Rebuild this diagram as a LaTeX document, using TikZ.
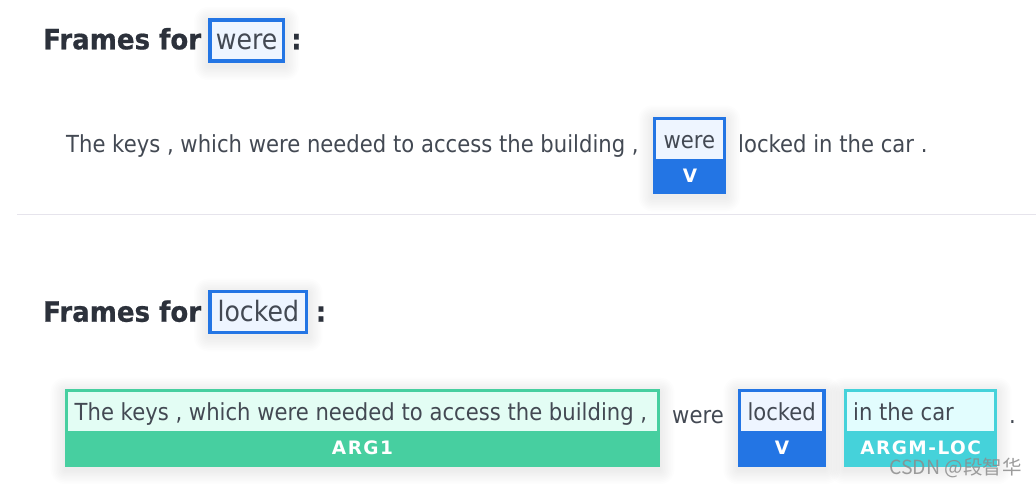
\documentclass[tikz,border=0pt]{standalone}
\usepackage{fontspec}
\setmainfont{DejaVu Sans}[FakeStretch=0.9]
\newfontfamily\hdfont{DejaVu Sans}[FakeStretch=0.93,FakeBold=0.7]
\newfontfamily\labfont{DejaVu Sans}[LetterSpace=8]
\newfontfamily\cjk{Noto Sans CJK SC}
\definecolor{hdc}{HTML}{2C313B}
\definecolor{txc}{HTML}{434953}
\definecolor{vblue}{HTML}{2375E4}
\definecolor{vlight}{HTML}{EEF5FF}
\definecolor{agreen}{HTML}{47CFA0}
\definecolor{alight}{HTML}{E3FDF4}
\definecolor{lteal}{HTML}{45D2DA}
\definecolor{llight}{HTML}{E2FDFE}
\definecolor{sepc}{HTML}{E6E4EC}
\newcommand\softshadow[4]{%
  \foreach \k in {1,...,9}{%
    \fill[black,opacity=0.006,rounded corners=\k*1.6pt] (#1-\k*1.6,#2-\k*1.6+3) rectangle (#3+\k*1.6,#4+\k*1.6+3);}}
\newcommand\srlbox[7]{% x1 y1 x2 y2 ymid colour light
  \softshadow{#1}{#2}{#3}{#4}
  \fill[#6] (#1,#2) rectangle (#3,#4);
  \fill[#7] (#1+3.3,#2+3.3) rectangle (#3-3.3,#5);}
\begin{document}
\begin{tikzpicture}[x=1pt,y=-1pt,
  head/.style={anchor=base west,inner sep=0,text=hdc,font=\fontsize{28}{33}\selectfont\hdfont\bfseries},
  boxword/.style={anchor=base,inner sep=0,text=txc,font=\fontsize{28}{33}\selectfont},
  txt/.style={anchor=base west,inner sep=0,text=txc,font=\fontsize{23.5}{28}\selectfont},
  inword/.style={anchor=base,inner sep=0,text=txc,font=\fontsize{23.5}{28}\selectfont},
  lab/.style={anchor=center,inner sep=0,text=white,font=\fontsize{18.5}{22}\selectfont\labfont\bfseries},
  wordframe/.style={draw=vblue,line width=3.4pt,fill=vlight}]
\useasboundingbox (0,0) rectangle (1036,486);
\fill[white] (0,0) rectangle (1036,486);

% ---- section 1 ----
\node[head] (h1) at (43,49.3) {Frames for};
\softshadow{208.3}{18.3}{285}{62.7}
\draw[wordframe] (210,20) rectangle (283.3,61);
\node[boxword] (w1) at (246.7,49.3) {were};
\node[head] (c1) at (291,49.3) {:};

\node[txt] (s1a) at (66,152.3) {The keys , which were needed to access the building ,};
\srlbox{652.7}{116.7}{726}{194}{159}{vblue}{vlight}
\node[inword] (s1w) at (689.4,149) {were};
\node[lab] (s1V) at (690,176.2) {V};
\node[txt] (s1b) at (738,152.3) {locked in the car .};

\draw[sepc,line width=1pt] (17,214.3) -- (1036,214.3);

% ---- section 2 ----
\node[head] (h2) at (43,321.7) {Frames for};
\softshadow{208.3}{290}{308.3}{334}
\draw[wordframe] (210,291.7) rectangle (306.6,332.3);
\node[boxword] (w2) at (258.3,321.7) {locked};
\node[head] (c2) at (315.5,321.7) {:};

\srlbox{65}{389}{660}{466.7}{431}{agreen}{alight}
\node[txt] (a1t) at (74.5,420.7) {The keys , which were needed to access the building ,};
\node[lab] (a1l) at (362.5,447.5) {ARG1};

\node[txt] (s2w) at (672,423.3) {were};

\srlbox{737.7}{389}{825.7}{466.7}{431}{vblue}{vlight}
\node[inword] (s2v) at (781.7,420.7) {locked};
\node[lab] (s2V) at (782,447.5) {V};

\srlbox{844}{389}{997.3}{466.7}{431}{lteal}{llight}
\node[txt] (s2l) at (853,420.7) {in the car};
\node[lab] (s2L) at (920.6,447.5) {ARGM-LOC};

\node[txt] (dot) at (1009,423.3) {.};

\node[anchor=base west,inner sep=0,text=black!45,opacity=0.85,font=\fontsize{19.5}{23}\selectfont\cjk] (wm) at (889,474) {CSDN @段智华};
\end{tikzpicture}
\end{document}
